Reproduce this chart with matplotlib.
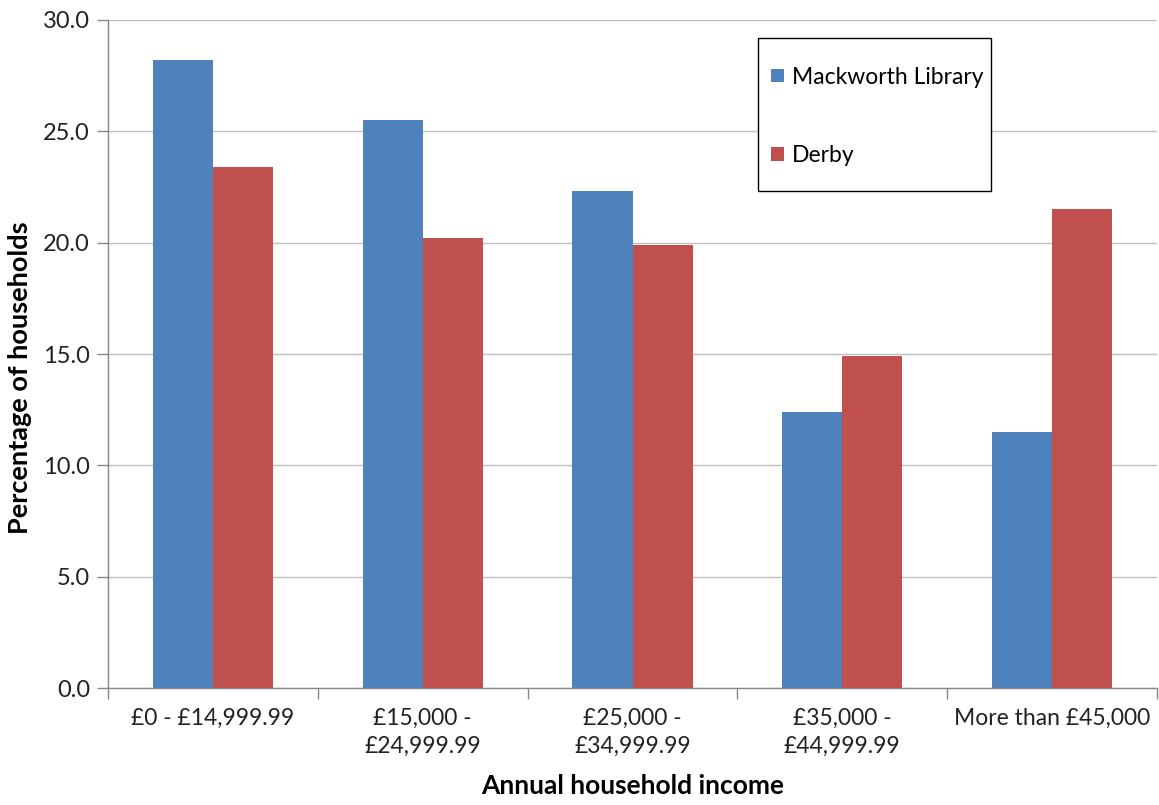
import matplotlib.pyplot as plt
import matplotlib.patches as mpatches
import numpy as np

plt.rcParams['font.family'] = ['Lato', 'DejaVu Sans']

categories = ['£0 - £14,999.99', '£15,000 -\n£24,999.99', '£25,000 -\n£34,999.99',
              '£35,000 -\n£44,999.99', 'More than £45,000']
mackworth = [28.2, 25.5, 22.3, 12.4, 11.5]
derby = [23.4, 20.2, 19.9, 14.9, 21.5]

fig = plt.figure(figsize=(11.59, 8.05), dpi=100)
ax = fig.add_axes([108/1159, 1-688/805, 1049/1159, 668/805])

x = np.arange(len(categories))
w = 0.286
ax.bar(x - w/2, mackworth, w, color='#4F81BD', label='Mackworth Library', zorder=3)
ax.bar(x + w/2, derby, w, color='#C0504D', label='Derby', zorder=3)

ax.set_xlim(-0.5, len(categories) - 0.5)
ax.set_ylim(0, 30)
ax.set_yticks(np.arange(0, 30.1, 5))
ax.set_yticklabels(['%.1f' % v for v in np.arange(0, 30.1, 5)])
ax.yaxis.grid(True, color='#BFBFBF', linewidth=1, zorder=0)

# category labels in the middle, tick marks at the boundaries
ax.set_xticks(x)
ax.set_xticklabels(categories, fontsize=16.5, color='#222222', linespacing=1.45)
ax.tick_params(axis='x', length=0, pad=14)
ax.set_xticks(np.arange(-0.5, len(categories)), minor=True)
ax.tick_params(axis='x', which='minor', length=8, color='#888888', width=1)
ax.tick_params(axis='y', length=8, color='#888888', width=1, labelsize=17, labelcolor='#222222', pad=5)

for s in ['top', 'right']:
    ax.spines[s].set_visible(False)
for s in ['left', 'bottom']:
    ax.spines[s].set_color('#888888')
    ax.spines[s].set_linewidth(1)

ax.set_ylabel('Percentage of households', fontsize=19.5, fontweight='bold', va='center')
ax.yaxis.set_label_coords(-0.084, 0.464)
ax.set_xlabel('Annual household income', fontsize=19, fontweight='bold', labelpad=12)

# legend box drawn separately so the padding can match
box = mpatches.Rectangle((0.6196, 0.744), 0.2222, 0.229, transform=ax.transAxes,
                         facecolor='white', edgecolor='black', linewidth=1, zorder=5)
ax.add_patch(box)
leg = ax.legend(loc='center left', bbox_to_anchor=(0.6215, 0.856), fontsize=16.5,
                handlelength=0.55, handleheight=0.55, handletextpad=0.35,
                labelspacing=2.5, borderpad=0, frameon=False)
leg.set_zorder(6)

fig.savefig('out.png', dpi=100)
